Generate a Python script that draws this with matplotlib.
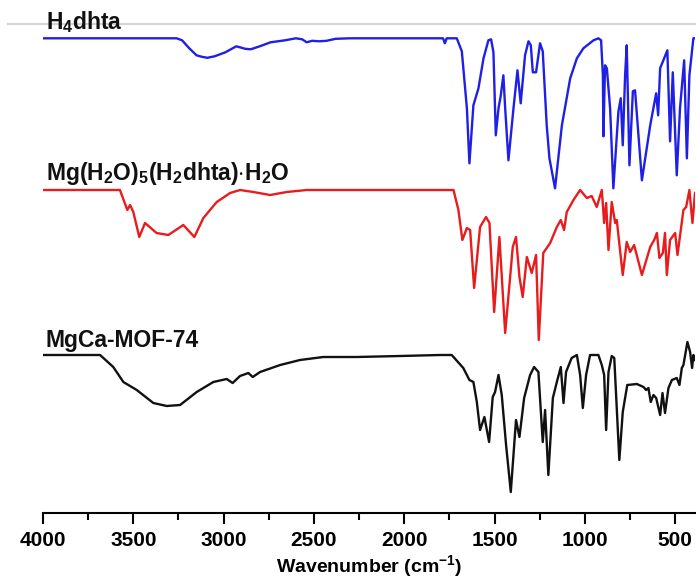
import numpy as np
import matplotlib
matplotlib.use("Agg")
import matplotlib.pyplot as plt
from matplotlib.lines import Line2D
from matplotlib.ticker import MultipleLocator

plt.rcParams['font.family'] = ['Liberation Sans', 'DejaVu Sans']
plt.rcParams['font.weight'] = 'bold'
plt.rcParams['mathtext.fontset'] = 'custom'
plt.rcParams['mathtext.rm'] = 'Liberation Sans:bold'
plt.rcParams['mathtext.bf'] = 'Liberation Sans:bold'
plt.rcParams['mathtext.default'] = 'bf'

# H4dhta (band depth below baseline, arbitrary units)
wn_h4dhta = [4000, 3260, 3230, 3190, 3150, 3120, 3090, 3050, 2990, 2930, 2880, 2850,
             2800, 2740, 2660, 2600, 2565, 2540, 2510, 2470, 2430, 2380, 2300,
             1800, 1785, 1775, 1765, 1709, 1681, 1653, 1639, 1617, 1589, 1561, 1534,
             1519, 1506, 1493, 1478, 1466, 1451, 1441, 1423, 1395, 1373, 1355, 1331,
             1312, 1299, 1288, 1270, 1248, 1233, 1211, 1196, 1165, 1127, 1081, 1044,
             1008, 952, 925, 910, 900, 897, 888, 878, 860, 842, 814, 801, 790, 777,
             768, 753, 734, 722, 684, 638, 605, 594, 583, 543, 528, 513, 491, 473,
             450, 435, 421, 399, 390]
d_h4dhta = [0, 0, 2, 10, 17, 18.5, 19.5, 18, 14, 8, 10.5, 11,
            8, 4, 2, 0, 1, 4, 2.5, 3, 2.5, 0.5, 0,
            0, 0, 5, 0, 0, 13, 70, 125, 67, 50, 20, 2,
            1, 14, 97, 70, 58, 37, 70, 122, 70, 32, 65, 17,
            3, 7, 34, 34, 5, 13, 87, 120, 150, 87, 40, 20,
            10, 2, 0, 2, 37, 98, 27, 30, 70, 150, 73, 60, 107, 37,
            7, 127, 53, 52, 142, 87, 55, 77, 30, 12, 103, 34, 137, 70,
            22, 120, 37, 0, 0]

# Mg(H2O)5(H2dhta)·H2O
wn_mg = [4000, 3574, 3533, 3518, 3500, 3467, 3435, 3371, 3306, 3223, 3162, 3112,
         3038, 2964, 2909, 2835, 2743, 2650, 2540, 1727, 1700, 1678, 1653, 1635,
         1613, 1580, 1547, 1528, 1502, 1473, 1441, 1399, 1381, 1362, 1344, 1321,
         1294, 1270, 1255, 1230, 1192, 1155, 1133, 1115, 1100, 1063, 1026, 989,
         962, 934, 906, 893, 882, 869, 851, 832, 823, 810, 790, 768, 749, 727,
         684, 638, 616, 601, 587, 568, 556, 546, 528, 500, 487, 454, 439, 421,
         404, 390]
d_mg = [0, 0, 20, 15, 22, 47, 33, 43, 45, 35, 47, 28,
        12, 3, 0, 2, 5, 2, 0, 0, 20, 50, 38, 40,
        98, 37, 27, 33, 122, 47, 143, 57, 47, 87, 107, 67,
        83, 65, 150, 63, 53, 37, 30, 40, 22, 10, 0, 8,
        6, 17, 0, 33, 13, 60, 12, 33, 30, 52, 85, 52, 62, 55,
        85, 57, 50, 43, 68, 63, 43, 85, 50, 43, 65, 20, 17, 0,
        33, 3]

# MgCa-MOF-74
wn_mof = [4000, 3684, 3611, 3555, 3481, 3389, 3315, 3241, 3149, 3057, 2983, 2950,
          2909, 2863, 2839, 2798, 2687, 2577, 2448, 2263, 2023, 1801, 1737, 1673,
          1639, 1617, 1598, 1580, 1556, 1530, 1510, 1497, 1478, 1460, 1436, 1410,
          1381, 1362, 1336, 1303, 1281, 1257, 1233, 1220, 1202, 1177, 1155, 1133,
          1118, 1104, 1073, 1044, 1026, 1011, 993, 971, 925, 906, 893, 882, 869,
          851, 837, 809, 790, 765, 712, 675, 661, 648, 635, 620, 605, 583, 570,
          556, 537, 518, 491, 476, 463, 454, 432, 417, 406, 399, 390]
d_mof = [0, 0, 12, 27, 35, 48, 51, 50, 37, 27, 24, 28,
         21, 18, 22, 17, 10, 5, 2, 2, 1, 0, 0, 13,
         25, 27, 47, 75, 62, 87, 42, 37, 20, 40, 90, 137,
         65, 82, 43, 20, 12, 17, 87, 55, 120, 43, 27, 12,
         48, 17, 3, 0, 20, 53, 20, 0, 0, 10, 20, 75, 17,
         1, 3, 105, 57, 30, 29, 32, 35, 33, 47, 40, 43, 60, 38,
         58, 33, 25, 23, 30, 13, 10, -13, -3, 13, 0, 5]

names = [r'H$_4$dhta', r'Mg(H$_2$O)$_5$(H$_2$dhta)$\cdot$H$_2$O', 'MgCa-MOF-74']
baselines = [474.7, 323, 158]
label_y = [484, 333, 166]
colors = ['#1f1fe6', '#e81c1c', '#111111']
series = [(wn_h4dhta, d_h4dhta), (wn_mg, d_mg), (wn_mof, d_mof)]

fig = plt.figure(figsize=(6.96, 5.78), dpi=100)
ax = fig.add_axes([43 / 696, 65 / 578, 652 / 696, 489 / 578])
ax.patch.set_visible(False)

for (wn, d), base, c, name, ly in zip(series, baselines, colors, names, label_y):
    ax.plot(wn, base - np.array(d), color=c, lw=1.7, solid_joinstyle='round')
    ax.text(3985, ly, name, fontsize=16.5, fontweight='bold', color='#111111',
            ha='left', va='baseline')

ax.set_xlim(4000, 390)
ax.set_ylim(0, 489)
ax.xaxis.set_major_locator(MultipleLocator(500))
ax.xaxis.set_minor_locator(MultipleLocator(250))
ax.tick_params(axis='x', which='major', direction='out', length=8, width=1.5,
               labelsize=15, pad=5)
ax.tick_params(axis='x', which='minor', direction='out', length=5, width=1.5)
ax.set_yticks([])
for s in ['left', 'right', 'top']:
    ax.spines[s].set_visible(False)
ax.spines['bottom'].set_linewidth(1.5)
ax.set_xlabel('Wavenumber (cm$^{-1}$)', fontsize=14, fontweight='bold', labelpad=2)

# thin grey rule across the top, behind the labels
fig.add_artist(Line2D([8 / 696, 1], [1 - 24 / 578, 1 - 24 / 578],
                      transform=fig.transFigure, color='#d4d4d4', lw=1.5, zorder=-1))

fig.savefig('out.png', dpi=100)
